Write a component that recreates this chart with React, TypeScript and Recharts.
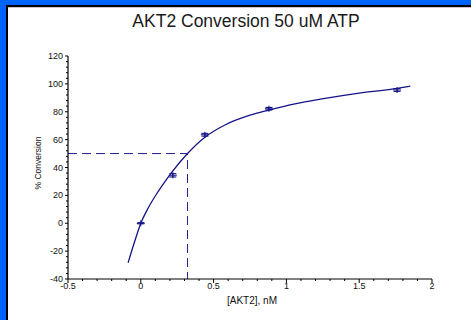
import React from 'react';
import { ComposedChart, Line, Scatter, XAxis, YAxis, ErrorBar } from 'recharts';

// Measured points: [AKT2] (nM) vs % conversion, with error
const conc = [0, 0.22, 0.44, 0.88, 1.76];
const conversion = [0, 34.4, 63.5, 82.2, 95.6];
const conversionErr = [0.4, 1.2, 1.0, 0.9, 1.0];

// Fitted curve
const curveX = [-0.087, -0.046, 0, 0.05, 0.108, 0.16, 0.211, 0.321, 0.44, 0.578, 0.75, 0.881, 1.05, 1.266, 1.5, 1.764, 1.851];
const curveY = [-28.3, -14.4, 0, 10.8, 21, 29, 36.3, 50, 61.7, 70.5, 77.5, 81.2, 85.5, 89.6, 93.4, 96.8, 98.4];

// EC50 guide
const ec50X = 0.321;
const ec50Y = 50;

const xMajorTicks = [-0.5, 0, 0.5, 1, 1.5, 2];
const yMajorTicks = [-40, -20, 0, 20, 40, 60, 80, 100, 120];
const xMinorPerMajor = 5;
const yMinorPerMajor = 5;

const title = 'AKT2 Conversion 50 uM ATP';
const xLabel = '[AKT2], nM';
const yLabel = '% Conversion';

const pointData = conc.map((x, i) => ({ x, y: conversion[i], err: conversionErr[i] }));
const curveData = curveX.map((x, i) => ({ x, y: curveY[i] }));
const guideData = [
  { x: xMajorTicks[0], y: ec50Y },
  { x: ec50X, y: ec50Y },
  { x: ec50X, y: yMajorTicks[0] },
];

const withMinor = (majors: number[], n: number) => {
  const out: number[] = [];
  for (let i = 0; i < majors.length - 1; i++) {
    const step = (majors[i + 1] - majors[i]) / n;
    for (let k = 0; k < n; k++) out.push(Math.round((majors[i] + k * step) * 1000) / 1000);
  }
  out.push(majors[majors.length - 1]);
  return out;
};
const xTicks = withMinor(xMajorTicks, xMinorPerMajor);
const yTicks = withMinor(yMajorTicks, yMinorPerMajor);

const isMajor = (arr: number[], v: number) => arr.some((t) => Math.abs(t - v) < 1e-6);

const FONT = 'Liberation Sans, Arial, sans-serif';
const NAVY = '#141488';

const XTick = (props: any) => {
  const { x, y, payload } = props;
  const v = payload.value;
  const major = isMajor(xMajorTicks, v);
  return (
    <g>
      <line x1={x} x2={x} y1={y} y2={y + (major ? 4 : 2)} stroke="#000" strokeWidth={1} />
      {major && (
        <text x={x} y={y + 10} textAnchor="middle" fontSize={9} fontFamily={FONT} fill="#111">
          {String(v)}
        </text>
      )}
    </g>
  );
};

const YTick = (props: any) => {
  const { x, y, payload } = props;
  const v = payload.value;
  const major = isMajor(yMajorTicks, v);
  return (
    <g>
      <line x1={x} x2={x - (major ? 3 : 2)} y1={y} y2={y} stroke="#000" strokeWidth={1} />
      {major && (
        <text x={x - 5} y={y + 3} textAnchor="end" fontSize={9} fontFamily={FONT} fill="#111">
          {String(v)}
        </text>
      )}
    </g>
  );
};

const PlusMarker = (props: any) => {
  const { cx, cy } = props;
  if (cx == null || cy == null) return null;
  return (
    <path d={`M${cx - 4},${cy}h8M${cx},${cy - 3}v6`} stroke={NAVY} strokeWidth={1.1} fill="none" />
  );
};

const YAxisLabel = (props: any) => {
  const vb = props.viewBox || {};
  const right = (vb.x ?? 67) + (vb.width ?? 1);
  const cx = right - 30;
  const cy = 163;
  return (
    <text
      x={cx}
      y={cy}
      transform={`rotate(-90 ${cx} ${cy})`}
      textAnchor="middle"
      dominantBaseline="central"
      fontSize={8.5}
      fontFamily={FONT}
      fill="#111"
    >
      {yLabel}
    </text>
  );
};

const XAxisLabel = (props: any) => {
  const vb = props.viewBox || {};
  const cx = (vb.x ?? 68) + (vb.width ?? 364) / 2 + 2;
  const cy = (vb.y ?? 279) + 25;
  return (
    <text x={cx} y={cy} textAnchor="middle" fontSize={10} fontFamily={FONT} fill="#111">
      {xLabel}
    </text>
  );
};

export default function App() {
  return (
    <div style={{ position: 'absolute', left: 0, top: 0, width: 471, height: 320, background: '#fff', overflow: 'hidden' }}>
      <div style={{ position: 'absolute', left: 0, top: 0, width: 471, height: 5, background: '#0064FA' }} />
      <div style={{ position: 'absolute', left: 0, top: 0, width: 6, height: 320, background: '#0064FA' }} />
      <div style={{ position: 'absolute', left: 6, top: 5, width: 465, height: 2, background: '#000' }} />
      <div style={{ position: 'absolute', left: 6, top: 5, width: 2, height: 315, background: '#000' }} />
      <div style={{ position: 'absolute', left: 8, top: 7, width: 463, height: 1, background: '#c8c8c8' }} />
      <svg style={{ position: 'absolute', left: 0, top: 0 }} width={471} height={40}>
        <text x={246} y={27} textAnchor="middle" fontSize={17.5} fontFamily={FONT} fill="#1a1a1a">
          {title}
        </text>
      </svg>
      <div style={{ position: 'absolute', left: 0, top: 0 }}>
        <ComposedChart width={471} height={320} margin={{ top: 56, right: 39, bottom: 40, left: 67 }}>
          <XAxis
            type="number"
            dataKey="x"
            domain={[xMajorTicks[0], xMajorTicks[xMajorTicks.length - 1]]}
            ticks={xTicks}
            interval={0}
            allowDataOverflow
            height={1}
            tickSize={0}
            tickMargin={0}
            tickLine={false}
            tick={<XTick />}
            axisLine={{ stroke: '#000', strokeWidth: 1.2 }}
            label={<XAxisLabel />}
          />
          <YAxis
            type="number"
            dataKey="y"
            domain={[yMajorTicks[0], yMajorTicks[yMajorTicks.length - 1]]}
            ticks={yTicks}
            interval={0}
            allowDataOverflow
            width={1}
            tickSize={0}
            tickMargin={0}
            tickLine={false}
            tick={<YTick />}
            axisLine={{ stroke: '#000', strokeWidth: 1.2 }}
            label={<YAxisLabel />}
          />
          <Line
            data={guideData}
            dataKey="y"
            type="linear"
            stroke="#1e1e8c"
            strokeWidth={1}
            strokeDasharray="9 5"
            dot={false}
            activeDot={false}
            isAnimationActive={false}
          />
          <Line
            data={curveData}
            dataKey="y"
            type="monotone"
            stroke={NAVY}
            strokeWidth={1.3}
            dot={false}
            activeDot={false}
            isAnimationActive={false}
          />
          <Scatter data={pointData} dataKey="y" shape={<PlusMarker />} isAnimationActive={false}>
            <ErrorBar dataKey="err" direction="y" width={3.5} stroke={NAVY} strokeWidth={1.1} isAnimationActive={false} />
          </Scatter>
        </ComposedChart>
      </div>
    </div>
  );
}
